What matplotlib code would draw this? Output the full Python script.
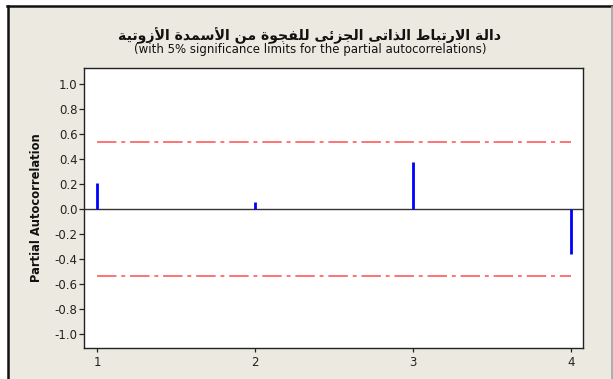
import matplotlib.pyplot as plt
from matplotlib.patches import Rectangle

# PACF values by lag, and the 5% significance limit
lags = [1, 2, 3, 4]
pacf_vals = [0.21, 0.055, 0.375, -0.36]
sig_limit = 0.535
y_ticks = [1.0, 0.8, 0.6, 0.4, 0.2, 0.0, -0.2, -0.4, -0.6, -0.8, -1.0]

title_ar = "دالة الارتباط الذاتى الجزئى للفجوة من الأسمدة الأزوتية"
subtitle = "(with 5% significance limits for the partial autocorrelations)"
y_label = "Partial Autocorrelation"

# --- minimal Arabic shaping (isolated, final, initial, medial) ---
FORMS = {
    'ا': ('\uFE8D', '\uFE8E', None, None),
    'أ': ('\uFE83', '\uFE84', None, None),
    'ب': ('\uFE8F', '\uFE90', '\uFE91', '\uFE92'),
    'ة': ('\uFE93', '\uFE94', None, None),
    'ت': ('\uFE95', '\uFE96', '\uFE97', '\uFE98'),
    'ج': ('\uFE9D', '\uFE9E', '\uFE9F', '\uFEA0'),
    'د': ('\uFEA9', '\uFEAA', None, None),
    'ذ': ('\uFEAB', '\uFEAC', None, None),
    'ر': ('\uFEAD', '\uFEAE', None, None),
    'ز': ('\uFEAF', '\uFEB0', None, None),
    'س': ('\uFEB1', '\uFEB2', '\uFEB3', '\uFEB4'),
    'ط': ('\uFEC1', '\uFEC2', '\uFEC3', '\uFEC4'),
    'ف': ('\uFED1', '\uFED2', '\uFED3', '\uFED4'),
    'ل': ('\uFEDD', '\uFEDE', '\uFEDF', '\uFEE0'),
    'م': ('\uFEE1', '\uFEE2', '\uFEE3', '\uFEE4'),
    'ن': ('\uFEE5', '\uFEE6', '\uFEE7', '\uFEE8'),
    'ه': ('\uFEE9', '\uFEEA', '\uFEEB', '\uFEEC'),
    'و': ('\uFEED', '\uFEEE', None, None),
    'ى': ('\uFEEF', '\uFEF0', None, None),
    'ي': ('\uFEF1', '\uFEF2', '\uFEF3', '\uFEF4'),
    'ئ': ('\uFE89', '\uFE8A', '\uFE8B', '\uFE8C'),
}
LAM_ALEF = {'ا': ('\uFEFB', '\uFEFC'), 'أ': ('\uFEF7', '\uFEF8')}


def joins_next(ch):
    return ch in FORMS and FORMS[ch][2] is not None


def shape_word(word):
    # merge lam + alef into ligatures first
    units = []
    i = 0
    while i < len(word):
        if word[i] == 'ل' and i + 1 < len(word) and word[i + 1] in LAM_ALEF:
            units.append(('LA', word[i + 1]))
            i += 2
        else:
            units.append(('CH', word[i]))
            i += 1
    out = []
    for k, (kind, ch) in enumerate(units):
        prev = units[k - 1] if k > 0 else None
        nxt = units[k + 1] if k + 1 < len(units) else None
        from_prev = prev is not None and prev[0] == 'CH' and joins_next(prev[1])
        if kind == 'LA':
            out.append(LAM_ALEF[ch][1 if from_prev else 0])
            continue
        to_next = nxt is not None and joins_next(ch)
        iso, fin, ini, med = FORMS[ch]
        if from_prev and to_next:
            out.append(med)
        elif from_prev:
            out.append(fin)
        elif to_next:
            out.append(ini)
        else:
            out.append(iso)
    return ''.join(out)


def arabic_display(text):
    shaped = ' '.join(shape_word(w) for w in text.split(' '))
    return shaped[::-1]


plt.rcParams['font.family'] = 'DejaVu Sans'
plt.rcParams['lines.scale_dashes'] = False

W, H = 613, 379
fig = plt.figure(figsize=(W / 100, H / 100), dpi=100, facecolor='white')

# panel background and frame
fig.patches.append(Rectangle((9 / W, 0), 602 / W, (H - 7) / H, transform=fig.transFigure,
                             facecolor='#ECE9E0', edgecolor='none', zorder=-5))
fig.lines.append(plt.Line2D([8 / W, 8 / W], [0, (H - 5.5) / H], transform=fig.transFigure,
                            color='#111111', lw=1.8, zorder=-4))
fig.lines.append(plt.Line2D([7 / W, 1], [(H - 6) / H, (H - 6) / H], transform=fig.transFigure,
                            color='#111111', lw=1.8, zorder=-4))
fig.lines.append(plt.Line2D([611.5 / W, 611.5 / W], [0, (H - 7) / H], transform=fig.transFigure,
                            color='#A0A0A0', lw=1.2, zorder=-4))

ax = fig.add_axes([84 / W, (H - 348) / H, 499 / W, 280 / H])
ax.set_zorder(2)
ax.set_facecolor('white')

ax.axhline(0, color='#333333', lw=1.0, zorder=2)
for s in (sig_limit, -sig_limit):
    ax.plot([lags[0], lags[-1]], [s, s], color='#FF7373', lw=1.4,
            dashes=(14, 3.5, 2.8, 3.5), zorder=2)
ax.vlines(lags, 0, pacf_vals, color='#0000FF', lw=2.0, zorder=3)

ax.set_xlim(0.918, 4.076)
ax.set_ylim(-1.112, 1.128)
ax.set_xticks(lags)
ax.set_yticks(y_ticks)
ax.set_yticklabels([f"{v:.1f}" for v in y_ticks])
ax.tick_params(axis='both', direction='out', length=3.5, width=0.9, labelsize=8.5,
               colors='#222222', pad=1.2)
ax.tick_params(axis='x', length=3, pad=3)
for sp in ax.spines.values():
    sp.set_color('#222222')
    sp.set_linewidth(1.0)

fig.text(37 / W, (H - 208) / H, y_label, rotation=90, ha='center', va='center',
         fontsize=8.3, fontweight='bold', color='#111111')
fig.text(310 / W, (H - 36) / H, arabic_display(title_ar), ha='center', va='center',
         fontsize=10.2, fontweight='bold', color='#111111')
fig.text(310 / W, (H - 50) / H, subtitle, ha='center', va='center',
         fontsize=8.5, color='#111111')

fig.savefig('out.png', dpi=100, facecolor='white')
